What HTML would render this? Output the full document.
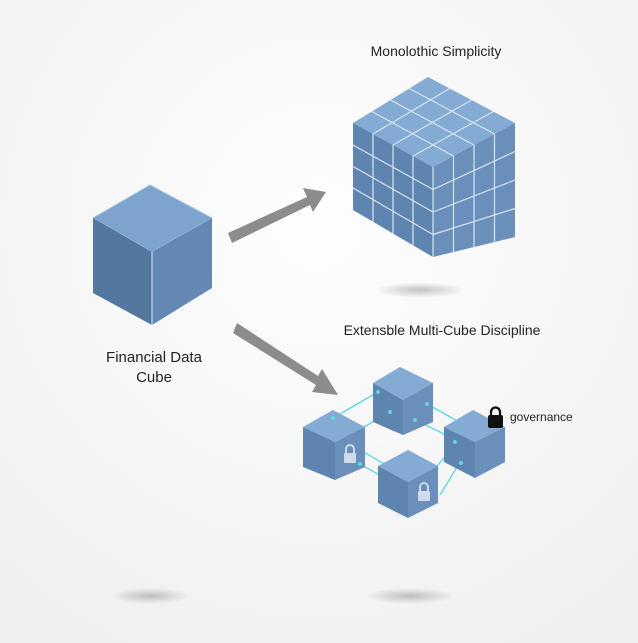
<!DOCTYPE html>
<html><head><style>
html,body{margin:0;padding:0;background:#fafafa;}
svg{display:block;}
text{font-family:"Liberation Sans",sans-serif;fill:#222;}
</style></head><body>
<svg width="638" height="643" viewBox="0 0 638 643" xmlns="http://www.w3.org/2000/svg">
<defs>
<radialGradient id="sh"><stop offset="0" stop-color="#000" stop-opacity="0.22"/><stop offset="1" stop-color="#000" stop-opacity="0"/></radialGradient>
<radialGradient id="bg" cx="0.5" cy="0.35" r="0.8"><stop offset="0" stop-color="#fefefe"/><stop offset="1" stop-color="#efefef"/></radialGradient>
</defs>
<rect width="638" height="643" fill="url(#bg)"/>
<ellipse cx="420" cy="290" rx="45" ry="8" fill="url(#sh)"/>
<ellipse cx="150" cy="596" rx="40" ry="8" fill="url(#sh)"/>
<ellipse cx="410" cy="596" rx="45" ry="8" fill="url(#sh)"/>

<!-- single cube -->
<polygon points="150,185 93,218 152,252 212,218" fill="#7ca4cc" stroke="#a9c6e2" stroke-width="1"/>
<polygon points="93,218 152,252 152,325 93,293" fill="#53779f"/>
<polygon points="152,252 212,218 212,288 152,325" fill="#6388b4"/>
<line x1="152" y1="252" x2="152" y2="325" stroke="#a9c6e2" stroke-width="1.5"/>

<!-- arrows -->
<g fill="#8c8c8c">
<polygon points="228,233 307,197 303,188 326,192 313,212 310,205 232,243"/>
<polygon points="237,323 318,376 322,369 338,395 312,392 316,385 233,333"/>
</g>

<!-- big grid cube -->
<polygon points="428,77 353,123 433,167 515,123" fill="#84abd3"/>
<polygon points="353,123 433,167 433,257 353,210" fill="#5e84b0"/>
<polygon points="433,167 515,123 515,237 433,257" fill="#6a8fbb"/>
<g stroke="#d8e6f3" stroke-width="1.2" fill="none">
<line x1="409.25" y1="88.5" x2="494.5" y2="134"/><line x1="390.5" y1="100" x2="474" y2="145"/><line x1="371.75" y1="111.5" x2="453.5" y2="156"/>
<line x1="449.75" y1="88.5" x2="373" y2="134"/><line x1="471.5" y1="100" x2="393" y2="145"/><line x1="493.25" y1="111.5" x2="413" y2="156"/>
<line x1="373" y1="134" x2="373" y2="222"/><line x1="393" y1="145" x2="393" y2="233.5"/><line x1="413" y1="156" x2="413" y2="245"/>
<line x1="353" y1="145" x2="433" y2="189.5"/><line x1="353" y1="166.5" x2="433" y2="212"/><line x1="353" y1="188" x2="433" y2="234.5"/>
<line x1="453.5" y1="156" x2="453.5" y2="252"/><line x1="474" y1="145" x2="474" y2="247"/><line x1="494.5" y1="134" x2="494.5" y2="242"/>
<line x1="433" y1="189.5" x2="515" y2="151.5"/><line x1="433" y1="212" x2="515" y2="180"/><line x1="433" y1="234.5" x2="515" y2="208.5"/>
<line x1="433" y1="167" x2="433" y2="257"/>
</g>

<!-- connectors -->
<g stroke="#5fd6e0" stroke-width="1.3">
<line x1="333" y1="418" x2="378" y2="392"/>
<line x1="345" y1="438" x2="390" y2="412"/>
<line x1="427" y1="404" x2="470" y2="428"/>
<line x1="415" y1="420" x2="465" y2="444"/>
<line x1="360" y1="450" x2="395" y2="470"/>
<line x1="360" y1="464" x2="385" y2="478"/>
<line x1="430" y1="475" x2="455" y2="444"/>
<line x1="440" y1="495" x2="460" y2="462"/>
</g>

<g>
<polygon points="400,367 373,383 403,400 433,383" fill="#84abd3"/>
<polygon points="373,383 403,400 403,435 373,422" fill="#5e84b0"/>
<polygon points="403,400 433,383 433,422 403,435" fill="#6a8fbb"/>
<polygon points="333,410 303,427 335,442 365,427" fill="#84abd3"/>
<polygon points="303,427 335,442 335,480 303,467" fill="#5e84b0"/>
<polygon points="335,442 365,427 365,467 335,480" fill="#6a8fbb"/>
<polygon points="473,410 444,427 475,442 505,427" fill="#84abd3"/>
<polygon points="444,427 475,442 475,478 444,462" fill="#5e84b0"/>
<polygon points="475,442 505,427 505,462 475,478" fill="#6a8fbb"/>
<polygon points="408,450 378,466 408,482 438,466" fill="#84abd3"/>
<polygon points="378,466 408,482 408,518 378,503" fill="#5e84b0"/>
<polygon points="408,482 438,466 438,503 408,518" fill="#6a8fbb"/>
</g>
<g fill="#5fd6e0">
<circle cx="333" cy="418" r="2"/><circle cx="378" cy="392" r="2"/><circle cx="390" cy="412" r="2"/>
<circle cx="427" cy="404" r="2"/><circle cx="415" cy="420" r="2"/><circle cx="455" cy="442" r="2"/>
<circle cx="461" cy="463" r="2"/><circle cx="360" cy="464" r="2"/>
</g>
<g fill="none" stroke="#cfdbe8" stroke-width="2"><path d="M346,453 v-4 a4,4 0 0 1 8,0 v4"/><path d="M420,491 v-4 a4,4 0 0 1 8,0 v4"/></g>
<g fill="#cfdbe8"><rect x="344" y="453" width="12" height="10" rx="1"/><rect x="418" y="491" width="12" height="10" rx="1"/></g>
<path d="M491,416 v-4 a4.5,4.5 0 0 1 9,0 v4" fill="none" stroke="#111" stroke-width="2.2"/>
<rect x="488" y="415" width="15" height="13" rx="2" fill="#111"/>
<text x="510" y="421" font-size="12">governance</text>

<text x="436" y="56" font-size="14" text-anchor="middle">Monolothic Simplicity</text>
<text x="442" y="335" font-size="14" text-anchor="middle">Extensble Multi-Cube Discipline</text>
<text x="154" y="362" font-size="15" text-anchor="middle">Financial Data</text>
<text x="154" y="382" font-size="15" text-anchor="middle">Cube</text>
</svg>
</body></html>
